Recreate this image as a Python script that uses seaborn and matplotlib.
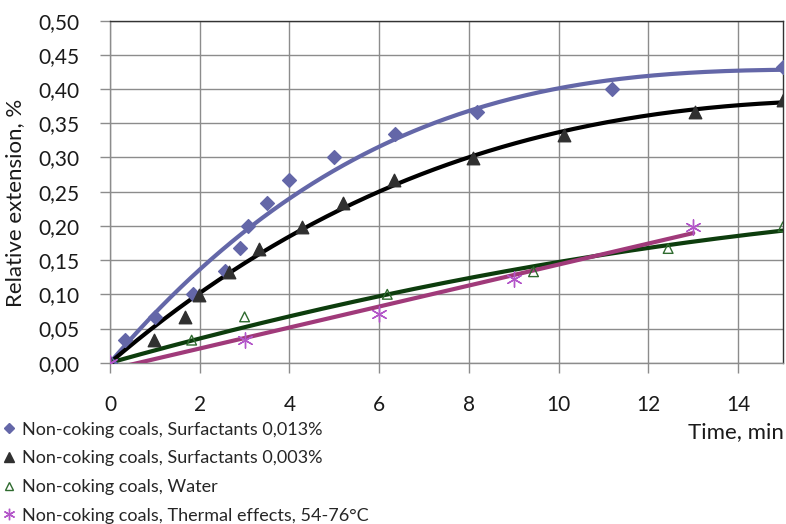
import numpy as np
import pandas as pd
import matplotlib
matplotlib.use("Agg")
import matplotlib.pyplot as plt
import seaborn as sns
from matplotlib.ticker import FuncFormatter

# ---- data ----
t_s013 = [0, 0.33, 1.0, 1.86, 2.57, 2.9, 3.08, 3.5, 4.0, 5.0, 6.35, 8.19, 11.19, 15.0]
v_s013 = [0, 0.033, 0.067, 0.100, 0.134, 0.167, 0.200, 0.234, 0.267, 0.300, 0.334, 0.367, 0.400, 0.433]

t_s003 = [0, 0.99, 1.68, 1.99, 2.66, 3.33, 4.27, 5.2, 6.33, 8.08, 10.11, 13.04, 15.0]
v_s003 = [0, 0.033, 0.067, 0.099, 0.133, 0.166, 0.199, 0.233, 0.267, 0.299, 0.333, 0.367, 0.384]

t_water = [0, 1.82, 3.0, 6.18, 9.44, 12.44, 15.0]
v_water = [0, 0.033, 0.067, 0.100, 0.133, 0.167, 0.199]

t_therm = [0, 3.0, 6.0, 9.0, 13.0]
v_therm = [0, 0.033, 0.071, 0.123, 0.199]

labels = ["Non-coking coals, Surfactants 0,013%",
          "Non-coking coals, Surfactants 0,003%",
          "Non-coking coals, Water",
          "Non-coking coals, Thermal effects, 54-76°C"]
x_ticks = [0, 2, 4, 6, 8, 10, 12, 14]
y_ticks = [0, 0.05, 0.10, 0.15, 0.20, 0.25, 0.30, 0.35, 0.40, 0.45, 0.50]
trend_orders = [3, 3, 2, 1]                 # polynomial trendline orders
trend_intercept = [False, False, False, True]  # free intercept or through origin


def trend(t, v, order, intercept):
    t = np.asarray(t, float)
    v = np.asarray(v, float)
    k0 = 0 if intercept else 1
    A = np.column_stack([t ** k for k in range(k0, order + 1)])
    coef, *_ = np.linalg.lstsq(A, v, rcond=None)
    g = np.linspace(0, t.max(), 200)
    G = np.column_stack([g ** k for k in range(k0, order + 1)])
    return pd.DataFrame({"t": g, "v": G @ coef})


sns.set_theme(style="white")
plt.rcParams['font.family'] = ['Lato', 'DejaVu Sans']

fig = plt.figure(figsize=(7.86, 5.24), dpi=100)
ax = fig.add_axes([110/786, (524-362.7)/524, 673/786, 342/524])

styles = [
    ("#6467a8", "#6467a8", "D", 7, "#6467a8"),
    ("#000000", "#303030", "^", 9, "#303030"),
    ("#0d3d0d", "none", "^", 7, "#2f6b2f"),
    ("#a03a7a", "#b356c9", (6, 2, 0), 11, "#b356c9"),
]
data = [(t_s013, v_s013), (t_s003, v_s003), (t_water, v_water), (t_therm, v_therm)]

handles = []
for (t, v), order, icpt, (lc, fc, mk, ms, ec) in zip(data, trend_orders, trend_intercept, styles):
    df = pd.DataFrame({"t": t, "v": v})
    sns.lineplot(data=trend(t, v, order, icpt), x="t", y="v", ax=ax, color=lc, lw=3,
                 zorder=3, legend=False)
    sns.scatterplot(data=df, x="t", y="v", ax=ax, marker=mk, s=ms**2,
                    color=fc, edgecolor=ec, linewidth=1.0, zorder=4, legend=False)
    h, = ax.plot([], [], ls="none", marker=mk, ms=ms*0.75,
                 mfc=fc, mec=ec, mew=1.0)
    handles.append(h)

ax.set_xlim(0, 15)
ax.set_ylim(0, 0.5)
ax.set_xticks(x_ticks)
ax.set_yticks(y_ticks)
ax.yaxis.set_major_formatter(FuncFormatter(lambda y, p: f"{y:.2f}".replace(".", ",")))
ax.grid(True, color="#8c8c8c", lw=1)
ax.set_axisbelow(True)
for s in ["left", "bottom"]:
    ax.spines[s].set_color("#8c8c8c")
for s in ["top", "right"]:
    ax.spines[s].set_color("#333333")
for s in ax.spines.values():
    s.set_linewidth(1)
ax.tick_params(axis="both", which="major", length=7, width=1, color="#8c8c8c",
               labelsize=15, labelcolor="#1a1a1a", direction="out",
               left=True, bottom=True)
ax.tick_params(axis="y", pad=15)
ax.tick_params(axis="x", pad=16)
ax.set_xlabel("")
ax.set_ylabel("Relative extension, %", fontsize=16, color="#1a1a1a")
ax.yaxis.set_label_coords((25 - 110) / 673, (362.7 - 203) / 342)

fig.text(784/786, 1 - 432/524, "Time, min", ha="right", va="center",
         fontsize=16, color="#1a1a1a")

fig.legend(handles, labels, loc="upper left", bbox_to_anchor=(0.0, 1 - 418/524),
           frameon=False, fontsize=13, handlelength=0.6, handletextpad=0.4,
           labelspacing=0.7, borderaxespad=0, borderpad=0.2)

fig.savefig("out.png", dpi=100)
